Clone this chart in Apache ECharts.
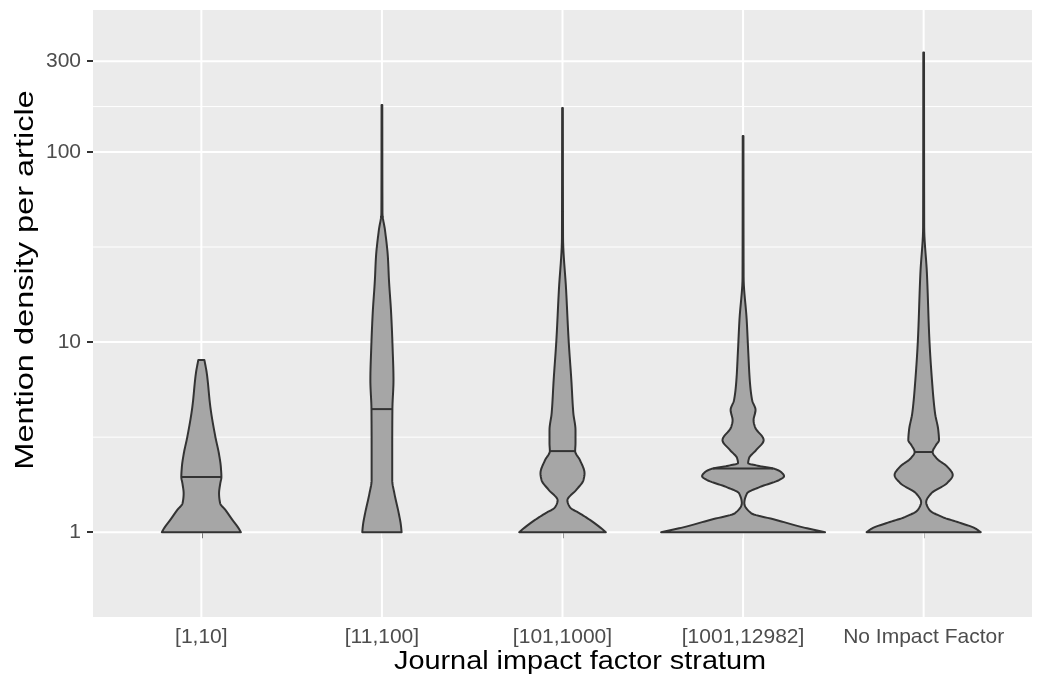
<!DOCTYPE html>
<html>
<head>
<meta charset="utf-8">
<script src="https://cdn.jsdelivr.net/npm/echarts@6/dist/echarts.min.js"></script>
<style>
html,body{margin:0;padding:0;background:#fff;}
#chart{width:1042px;height:681px;}
</style>
</head>
<body>
<div id="chart"></div>
<script>
// ---- data ----
const categories = ['[1,10]', '[11,100]', '[101,1000]', '[1001,12982]', 'No Impact Factor'];
const yTickValues = [1, 10, 100, 300];
const yMinorGrid = [3.162, 31.62, 173.2];
const yLimits = [0.358, 558];
const xTitle = 'Journal impact factor stratum';
const yTitle = 'Mention density per article';

// violin outlines: mention density (y) and half-width (category units)
const v1Values = [1, 1.06, 1.16, 1.31, 1.42, 1.60, 1.81, 1.95, 2.20, 2.60, 3.16, 4.55, 6.87, 8.04];
const v1Widths = [0.219, 0.203, 0.172, 0.133, 0.104, 0.098, 0.105, 0.111, 0.108, 0.097, 0.078, 0.050, 0.030, 0.017];

const v2Values = [1, 1.09, 1.26, 1.60, 1.88, 2.80, 4.44, 6.31, 9.41, 14.2, 21.2, 28.0, 38.8, 47.7, 176.8];
const v2Widths = [0.109, 0.105, 0.093, 0.069, 0.057, 0.057, 0.058, 0.064, 0.059, 0.051, 0.039, 0.033, 0.017, 0.003, 0.002];

const v3Values = [1, 1.06, 1.16, 1.26, 1.35, 1.47, 1.66, 1.88, 2.04, 2.39, 2.67, 2.94, 3.44, 4.23, 6.31, 10.2, 18.8, 35.7, 170.5];
const v3Widths = [0.240, 0.208, 0.152, 0.093, 0.042, 0.027, 0.074, 0.116, 0.122, 0.097, 0.070, 0.072, 0.072, 0.060, 0.049, 0.034, 0.020, 0.003, 0.002];

const v4Values = [1, 1.06, 1.16, 1.26, 1.42, 1.60, 1.73, 1.88, 1.97, 2.07, 2.165, 2.23, 2.31, 2.45, 2.70, 3.05, 3.57, 3.88, 4.39, 4.95, 6.31, 8.75, 13.1, 22.0, 121.4];
const v4Widths = [0.454, 0.332, 0.183, 0.044, 0.007, 0.022, 0.094, 0.199, 0.227, 0.211, 0.166, 0.089, 0.028, 0.033, 0.072, 0.114, 0.066, 0.058, 0.069, 0.050, 0.037, 0.029, 0.020, 0.003, 0.002];

const v5Values = [1, 1.05, 1.115, 1.20, 1.31, 1.44, 1.60, 1.81, 2.0, 2.20, 2.45, 2.64, 2.87, 3.05, 3.44, 4.23, 6.31, 10.2, 23.1, 40.3, 333];
const v5Widths = [0.316, 0.283, 0.208, 0.105, 0.032, 0.014, 0.042, 0.129, 0.161, 0.133, 0.071, 0.050, 0.068, 0.085, 0.081, 0.063, 0.046, 0.032, 0.018, 0.003, 0.002];

const medians = [1.95, 4.44, 2.67, 2.165, 2.64];

// ---- build ----
const valueSets = [v1Values, v2Values, v3Values, v4Values, v5Values];
const widthSets = [v1Widths, v2Widths, v3Widths, v4Widths, v5Widths];
const L = Math.log10;
const FONT = 'Liberation Sans, Arial, Helvetica, sans-serif';

// monotone cubic (Steffen-like) curve through the outline points, for drawing only
function makeCurve(xs, ys) {
  const n = xs.length, h = [], d = [], m = new Array(n).fill(0);
  for (let k = 0; k < n - 1; k++) { h[k] = xs[k + 1] - xs[k]; d[k] = (ys[k + 1] - ys[k]) / h[k]; }
  m[0] = d[0]; m[n - 1] = d[n - 2];
  for (let k = 1; k < n - 1; k++) {
    if (d[k - 1] * d[k] <= 0) m[k] = 0;
    else m[k] = 3 * (h[k - 1] + h[k]) / ((2 * h[k] + h[k - 1]) / d[k - 1] + (h[k] + 2 * h[k - 1]) / d[k]);
  }
  function at(k, t) {
    const t2 = t * t, t3 = t2 * t;
    return (2 * t3 - 3 * t2 + 1) * ys[k] + (t3 - 2 * t2 + t) * h[k] * m[k]
      + (-2 * t3 + 3 * t2) * ys[k + 1] + (t3 - t2) * h[k] * m[k + 1];
  }
  return {
    sample(steps) {
      const out = [];
      for (let k = 0; k < n - 1; k++) {
        for (let s = 0; s < steps; s++) { const t = s / steps; out.push([xs[k] + t * h[k], Math.max(0, at(k, t))]); }
      }
      out.push([xs[n - 1], ys[n - 1]]);
      return out;
    },
    value(x) {
      for (let k = 0; k < n - 1; k++) if (x >= xs[k] && x <= xs[k + 1]) return Math.max(0, at(k, (x - xs[k]) / h[k]));
      return 0;
    }
  };
}

function renderViolin(params, api) {
  const i = params.dataIndex;
  const curve = makeCurve(valueSets[i].map(L), widthSets[i]);
  const pts = curve.sample(10);
  const xc = i + 1;
  const right = pts.map(p => api.coord([xc + p[1], p[0]]));
  const left = pts.map(p => api.coord([xc - p[1], p[0]])).reverse();
  const m = L(medians[i]);
  const hw = curve.value(m);
  const p1 = api.coord([xc - hw, m]), p2 = api.coord([xc + hw, m]);
  return {
    type: 'group',
    children: [
      { type: 'polygon', shape: { points: right.concat(left) },
        style: { fill: '#A6A6A6', stroke: '#333333', lineWidth: 2, lineJoin: 'round' } },
      { type: 'line', shape: { x1: p1[0], y1: p1[1], x2: p2[0], y2: p2[1] },
        style: { stroke: '#333333', lineWidth: 2 } }
    ]
  };
}

function hLine(width) {
  return function (params, api) {
    const cs = params.coordSys;
    const p = api.coord([1, api.value(1)]);
    return { type: 'line', shape: { x1: cs.x, y1: p[1], x2: cs.x + cs.width, y2: p[1] },
      style: { stroke: '#FFFFFF', lineWidth: width } };
  };
}
function vLine(width) {
  return function (params, api) {
    const cs = params.coordSys;
    const p = api.coord([api.value(0), 0]);
    return { type: 'line', shape: { x1: p[0], y1: cs.y, x2: p[0], y2: cs.y + cs.height },
      style: { stroke: '#FFFFFF', lineWidth: width } };
  };
}

const catPositions = categories.map((c, i) => i + 1);
const yTickLogs = yTickValues.map(v => L(v));

const chart = echarts.init(document.getElementById('chart'), null, { renderer: 'canvas' });
chart.setOption({
  animation: false,
  backgroundColor: '#FFFFFF',
  grid: {
    left: 93, right: 10, top: 10, bottom: 64,
    show: true, backgroundColor: '#EBEBEB', borderWidth: 0,
    containLabel: false, outerBoundsMode: 'none'
  },
  graphic: [
    { type: 'text', x: 580, y: 662, scaleX: 1.11, silent: true,
      style: { text: xTitle, fill: '#000000', font: '26px ' + FONT, align: 'center', verticalAlign: 'middle' } },
    { type: 'text', x: 26, y: 280, rotation: Math.PI / 2, scaleX: 1.25, silent: true,
      style: { text: yTitle, fill: '#000000', font: '26px ' + FONT, align: 'center', verticalAlign: 'middle' } }
  ],
  xAxis: {
    type: 'value', min: 0.4, max: 5.6,
    axisLine: { show: false },
    splitLine: { show: false },
    axisTick: { show: true, customValues: catPositions, length: 6,
      lineStyle: { color: '#333333', width: 2 } },
    axisLabel: { show: true, customValues: catPositions, margin: 10,
      color: '#4D4D4D', fontSize: 21, fontFamily: FONT,
      formatter: v => categories[Math.round(v) - 1] }
  },
  yAxis: {
    type: 'value', min: L(yLimits[0]), max: L(yLimits[1]),
    axisLine: { show: false },
    splitLine: { show: false },
    axisTick: { show: true, customValues: yTickLogs, length: 6,
      lineStyle: { color: '#333333', width: 2 } },
    axisLabel: { show: true, customValues: yTickLogs, margin: 12,
      color: '#4D4D4D', fontSize: 21, fontFamily: FONT,
      formatter: v => String(Math.round(Math.pow(10, v))) }
  },
  series: [
    { type: 'custom', silent: true, z: 1, renderItem: hLine(1),
      data: yMinorGrid.map(v => [1, L(v)]) },
    { type: 'custom', silent: true, z: 1, renderItem: hLine(2),
      data: yTickValues.map(v => [1, L(v)]) },
    { type: 'custom', silent: true, z: 1, renderItem: vLine(2),
      data: catPositions.map(x => [x, 0]) },
    { type: 'custom', z: 2, renderItem: renderViolin, clip: true,
      data: medians.map((m, i) => [i + 1, L(m)]) }
  ]
});
</script>
</body>
</html>
